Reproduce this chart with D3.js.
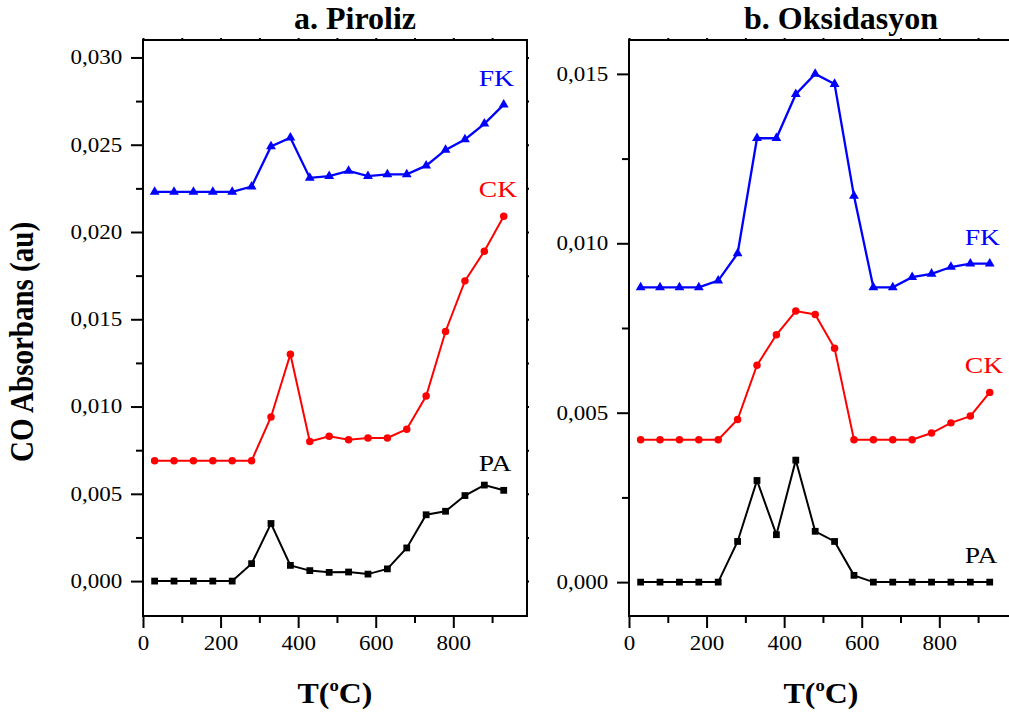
<!DOCTYPE html>
<html>
<head>
<meta charset="utf-8">
<script src="https://cdn.jsdelivr.net/npm/d3@7"></script>
<style>
  html, body { margin: 0; padding: 0; background: #fff; }
  svg { display: block; font-family: "Liberation Serif", "Times New Roman", serif; }
</style>
</head>
<body>
<svg id="chart" width="1009" height="713"></svg>
<script>
// Temperatures (x values), same for every series
const temps = [30, 80, 130, 180, 230, 280, 330, 380, 430, 480, 530, 580, 630, 680, 730, 780, 830, 880, 930];

// a. Piroliz
const pirolizPA = [0, 0, 0, 0, 0, 0.0010, 0.0033, 0.0009, 0.0006, 0.0005, 0.00052, 0.0004, 0.0007, 0.0019, 0.0038, 0.0040, 0.0049, 0.0055, 0.0052];
const pirolizCK = [0.0069, 0.0069, 0.0069, 0.0069, 0.0069, 0.0069, 0.0094, 0.0130, 0.0080, 0.0083, 0.0081, 0.0082, 0.0082, 0.0087, 0.0106, 0.0143, 0.0172, 0.0189, 0.0209];
const pirolizFK = [0.0223, 0.0223, 0.0223, 0.0223, 0.0223, 0.0226, 0.0249, 0.0254, 0.0231, 0.0232, 0.0235, 0.0232, 0.0233, 0.0233, 0.0238, 0.0247, 0.0253, 0.0262, 0.0273];

// b. Oksidasyon
const oksPA = [0, 0, 0, 0, 0, 0.0012, 0.0030, 0.0014, 0.0036, 0.0015, 0.0012, 0.0002, 0, 0, 0, 0, 0, 0, 0];
const oksCK = [0.0042, 0.0042, 0.0042, 0.0042, 0.0042, 0.0048, 0.0064, 0.0073, 0.0080, 0.0079, 0.0069, 0.0042, 0.0042, 0.0042, 0.0042, 0.0044, 0.0047, 0.0049, 0.0056];
const oksFK = [0.0087, 0.0087, 0.0087, 0.0087, 0.0089, 0.0097, 0.0131, 0.0131, 0.0144, 0.0150, 0.0147, 0.0114, 0.0087, 0.0087, 0.0090, 0.0091, 0.0093, 0.0094, 0.0094];

// Ticks
const xTicks = [0, 200, 400, 600, 800];
const xMinor = [100, 300, 500, 700, 900];
const yTicksPiroliz = [0, 0.005, 0.010, 0.015, 0.020, 0.025, 0.030];
const yMinorPiroliz = [0.0025, 0.0075, 0.0125, 0.0175, 0.0225, 0.0275];
const yTicksOks = [0, 0.005, 0.010, 0.015];
const yMinorOks = [0.0025, 0.0075, 0.0125];

const seriesNames = ["PA", "CK", "FK"];
const colors = { PA: "#000000", CK: "#ff0000", FK: "#0000ff" };
const markers = { PA: d3.symbolSquare, CK: d3.symbolCircle, FK: d3.symbolTriangle };
const markerSize = { PA: 46, CK: 44, FK: 42 };

const svg = d3.select("#chart");
const locale = d3.formatLocale({ decimal: ",", thousands: ".", grouping: [3], currency: ["", ""] });
const fmt = locale.format(".3f");
const STRETCH = 1.15; // the source picture is a bit wider than tall

svg.append("rect").attr("width", 1009).attr("height", 713).attr("fill", "#fff");

function drawPanel(p) {
  const g = svg.append("g");
  const x = d3.scaleLinear().domain([0, 990]).range([p.left, p.left + 384]);
  const y = d3.scaleLinear().domain(p.yDomain).range([616, 40]);

  // minor ticks first
  g.append("g").attr("transform", "translate(0,616)")
    .call(d3.axisBottom(x).tickValues(xMinor).tickSize(7).tickSizeOuter(0).tickFormat(""));
  g.append("g").attr("transform", `translate(${p.left},0)`)
    .call(d3.axisLeft(y).tickValues(p.yMinor).tickSize(7).tickSizeOuter(0).tickFormat(""));

  // major ticks
  const xa = g.append("g").attr("transform", "translate(0,616)")
    .call(d3.axisBottom(x).tickValues(xTicks).tickSize(12).tickSizeOuter(0).tickPadding(8));
  const ya = g.append("g").attr("transform", `translate(${p.left},0)`)
    .call(d3.axisLeft(y).tickValues(p.yTicks).tickSize(12).tickSizeOuter(0).tickPadding(6).tickFormat(fmt));

  // tiny mirrored ticks on top and right
  g.append("g").attr("transform", "translate(0,40)")
    .call(d3.axisTop(x).tickValues(xTicks.concat(xMinor)).tickSize(2).tickSizeOuter(0).tickFormat(""));
  g.append("g").attr("transform", `translate(${p.left + 384},0)`)
    .call(d3.axisRight(y).tickValues(p.yTicks.concat(p.yMinor)).tickSize(2).tickSizeOuter(0).tickFormat(""));

  g.selectAll(".domain").remove();
  g.selectAll(".tick line").attr("stroke", "#000").attr("stroke-width", 2);
  [xa, ya].forEach(a => a.selectAll("text")
    .attr("fill", "#000")
    .style("font-size", "20px")
    .style("font-family", "'Liberation Serif', serif")
    .attr("transform", `scale(${STRETCH},1)`));

  // frame
  g.append("rect")
    .attr("x", p.left).attr("y", 40)
    .attr("width", 384).attr("height", 576)
    .attr("fill", "none").attr("stroke", "#000").attr("stroke-width", 2);

  const line = d3.line().x((d, i) => x(temps[i])).y(d => y(d));

  seriesNames.forEach(name => {
    const vals = p.series[name];
    const c = colors[name];
    g.append("path").datum(vals)
      .attr("d", line)
      .attr("fill", "none")
      .attr("stroke", c)
      .attr("stroke-width", name === "FK" ? 2.3 : 2);

    g.selectAll(null).data(vals).enter().append("path")
      .attr("d", d3.symbol().type(markers[name]).size(markerSize[name]))
      .attr("transform", (d, i) => `translate(${x(temps[i])},${y(d)})`)
      .attr("fill", c);

    // series label just above its last point
    const last = vals.length - 1;
    g.append("text")
      .attr("transform", `translate(${x(temps[last]) - 25},${y(vals[last]) - 19}) scale(${STRETCH},1)`)
      .attr("fill", c)
      .style("font-size", "24px")
      .text(name);
  });

  // panel title
  g.append("text")
    .attr("x", p.left + 192 + 20).attr("y", 29)
    .attr("text-anchor", "middle")
    .style("font-size", "32px").style("font-weight", "bold")
    .text(p.title);

  // x label T(°C)
  const xl = g.append("text")
    .attr("transform", `translate(${p.left + 192},703) scale(1.1,1)`)
    .attr("text-anchor", "middle")
    .style("font-size", "29px").style("font-weight", "bold");
  xl.append("tspan").text("T(");
  xl.append("tspan").attr("dy", -12).style("font-size", "17px").text("o");
  xl.append("tspan").attr("dy", 12).text("C)");
}

drawPanel({
  title: "a. Piroliz",
  left: 143,
  yDomain: [-0.002, 0.031],
  yTicks: yTicksPiroliz,
  yMinor: yMinorPiroliz,
  series: { PA: pirolizPA, CK: pirolizCK, FK: pirolizFK }
});

drawPanel({
  title: "b. Oksidasyon",
  left: 629,
  yDomain: [-0.001, 0.016],
  yTicks: yTicksOks,
  yMinor: yMinorOks,
  series: { PA: oksPA, CK: oksCK, FK: oksFK }
});

// shared y label
svg.append("text")
  .attr("transform", `translate(33,342) scale(${STRETCH},1) rotate(-90)`)
  .attr("text-anchor", "middle")
  .style("font-size", "29px").style("font-weight", "bold")
  .text("CO Absorbans (au)");
</script>
</body>
</html>
